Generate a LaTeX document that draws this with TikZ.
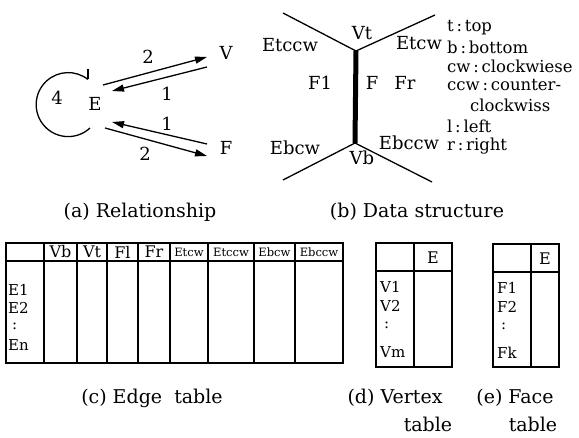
\documentclass[tikz,border=0pt]{standalone}
\usepackage{fontspec}
\setmainfont{DejaVu Serif}
\usetikzlibrary{arrows.meta}
\begin{document}
\begin{tikzpicture}[x=1pt,y=-1pt,
  lbl/.style={inner sep=0pt,font=\fontsize{18}{18}\selectfont},
  caption/.style={inner sep=0pt,font=\fontsize{19}{19}\selectfont},
  key/.style={inner sep=0pt,anchor=west,font=\fontsize{16.5}{16.5}\selectfont},
  head/.style={inner sep=0pt,font=\fontsize{16}{16}\selectfont},
  rowl/.style={inner sep=0pt,anchor=west,font=\fontsize{15}{15}\selectfont},
  tiny/.style={inner sep=0pt,font=\fontsize{11.5}{11.5}\selectfont},
  arr/.style={line width=1.3pt,-{Triangle[length=12pt,width=7pt]}},
  thin/.style={line width=1.3pt},
  grid/.style={line width=1.2pt}]
\useasboundingbox (0,0) rectangle (579,438);

% Panel A: relationship
\node[lbl] (E) at (95,104) {E};
\node[lbl] (V) at (226,53) {V};
\node[lbl] (F) at (226,148) {F};
\coordinate (ev1) at (103,85);  \coordinate (ev2) at (207,57);
\coordinate (ve1) at (207,67);  \coordinate (ve2) at (112,91);
\coordinate (fe1) at (207,144); \coordinate (fe2) at (112,122);
\coordinate (ef1) at (105,128); \coordinate (ef2) at (207,156);
\draw[arr] (ev1) -- (ev2);
\draw[arr] (ve1) -- (ve2);
\draw[arr] (fe1) -- (fe2);
\draw[arr] (ef1) -- (ef2);
\node[lbl] at (148,57) {2};
\node[lbl] at (167,94) {1};
\node[lbl] at (167,124) {1};
\node[lbl] at (145,154) {2};
% self loop
\coordinate (lp) at (90,128);
\draw[thin] (lp) arc[start angle=-47, end angle=-308, radius=32pt] coordinate (lq);
\draw[thin] (lq) -- ++(0,-10);
\node[lbl] at (57,98) {4};

% Panel B: data structure
\coordinate (Vt) at (356,51);
\coordinate (Vb) at (355,143);
\draw[line width=5pt] (Vt) -- (Vb);
\draw[thin] (283,13) -- (Vt) -- (435,15);
\draw[thin] (283,180) -- (Vb) -- (432,182);
\node[lbl] at (362,33) {Vt};
\node[lbl] at (362,158) {Vb};
\node[lbl] at (290,45) {Etccw};
\node[lbl] at (419,43) {Etcw};
\node[lbl] at (320,83) {F1};
\node[lbl] at (372,83) {F};
\node[lbl] at (405,83) {Fr};
\node[lbl] at (295,148) {Ebcw};
\node[lbl] at (409,143) {Ebccw};
% legend
\node[key] at (447,28) {t\,:\,top};
\node[key] at (447,47) {b\,:\,bottom};
\node[key] at (447,66) {cw\,:\,clockwiese};
\node[key] at (447,85) {ccw\,:\,counter-};
\node[key] at (470,105) {clockwiss};
\node[key] at (447,126) {l\,:\,left};
\node[key] at (447,146) {r\,:\,right};

\node[caption] at (140,212) {(a) Relationship};
\node[caption] at (417,212) {(b) Data structure};

% Edge table
\draw[grid] (6,243) rectangle (343,363);
\draw[grid] (6,261) -- (343,261);
\foreach \x in {44,77,107,138,170,208,254,295}
  \draw[grid] (\x,243) -- (\x,363);
\foreach \x/\t in {60.5/Vb,92/Vt,122.5/Fl,154/Fr}
  \node[head] at (\x,252) {\t};
\foreach \x/\t in {189/Etcw,231/Etccw,274.5/Ebcw,319/Ebccw}
  \node[tiny] at (\x,252) {\t};
\node[rowl] at (8,290) {E1};
\node[rowl] at (8,308) {E2};
\node[rowl] at (12,326) {:};
\node[rowl] at (8,345) {En};

% Vertex table
\draw[grid] (376,243) rectangle (452,367);
\draw[grid] (376,271) -- (452,271);
\draw[grid] (414,243) -- (414,367);
\node[head] at (433,258) {E};
\node[rowl] at (380,287) {V1};
\node[rowl] at (380,306) {V2};
\node[rowl] at (384,325) {:};
\node[rowl] at (380,352) {Vm};

% Face table
\draw[grid] (493,244) rectangle (559,367);
\draw[grid] (493,272) -- (559,272);
\draw[grid] (531,244) -- (531,367);
\node[head] at (545,259) {E};
\node[rowl] at (497,288) {F1};
\node[rowl] at (497,307) {F2};
\node[rowl] at (501,326) {:};
\node[rowl] at (497,353) {Fk};

\node[caption] at (152,398) {(c) Edge\ \ table};
\node[caption] at (395,398) {(d) Vertex};
\node[caption] at (428,424) {table};
\node[caption] at (515,398) {(e) Face};
\node[caption] at (533,424) {table};
\end{tikzpicture}
\end{document}
